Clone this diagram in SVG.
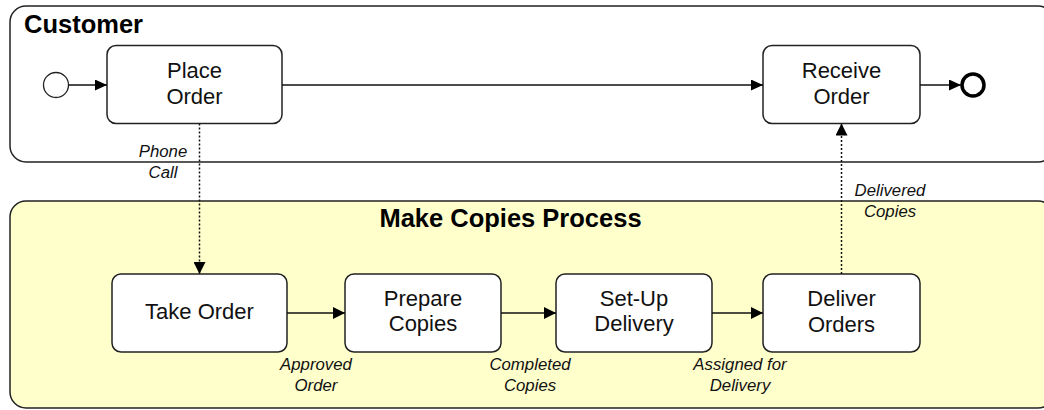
<svg xmlns="http://www.w3.org/2000/svg" width="1044" height="410" viewBox="0 0 1044 410">
<defs>
<marker id="arr" viewBox="0 0 12 11" refX="12" refY="5.5" markerWidth="12" markerHeight="11" markerUnits="userSpaceOnUse" orient="auto">
<path d="M0,0 L12,5.5 L0,11 z" fill="#000"/>
</marker>
<marker id="arrL" viewBox="0 0 12 12" refX="12" refY="6" markerWidth="12" markerHeight="12" markerUnits="userSpaceOnUse" orient="auto">
<path d="M0,0 L12,6 L0,12 z" fill="#000"/>
</marker>
</defs>
<style>
.lane{stroke:#222;stroke-width:1.5}
.box{fill:#fff;stroke:#222;stroke-width:1.5}
.t{font-family:"Liberation Sans",Arial,sans-serif;font-size:22px;fill:#111;text-anchor:middle}
.h{font-family:"Liberation Sans",Arial,sans-serif;font-size:25.5px;font-weight:bold;fill:#000}
.l{font-family:"Liberation Sans",Arial,sans-serif;font-size:16.8px;font-style:italic;fill:#111;text-anchor:middle}
.c{fill:none;stroke:#111;stroke-width:1.5}
.d{fill:none;stroke:#111;stroke-width:1.5;stroke-dasharray:2 2}
</style>
<g id="lane-customer">
<rect class="lane" x="10" y="6" width="1044" height="156" rx="16" fill="#fff"/>
<text class="h" x="24" y="33">Customer</text>
</g>
<g id="lane-make-copies">
<rect class="lane" x="10" y="201" width="1044" height="207" rx="16" fill="#FFFFCC"/>
<text class="h" x="510.5" y="227" text-anchor="middle" font-size="26.2">Make Copies Process</text>
</g>
<g id="start">
<circle cx="56" cy="85" r="12.5" fill="#fff" stroke="#222" stroke-width="1.3"/>
</g>
<g id="end">
<circle cx="973" cy="85" r="11" fill="#fff" stroke="#000" stroke-width="3.5"/>
</g>
<g id="place-order">
<rect class="box" x="107" y="45.5" width="175" height="78" rx="9"/>
<text class="t" x="194.5" y="78">Place</text>
<text class="t" x="194.5" y="103.5">Order</text>
</g>
<g id="receive-order">
<rect class="box" x="763" y="45.5" width="157" height="78" rx="9"/>
<text class="t" x="841.5" y="78">Receive</text>
<text class="t" x="841.5" y="103.5">Order</text>
</g>
<g id="take-order">
<rect class="box" x="112" y="274" width="175" height="78" rx="9"/>
<text class="t" x="199.5" y="318.5">Take Order</text>
</g>
<g id="prepare-copies">
<rect class="box" x="345" y="274" width="156" height="78" rx="9"/>
<text class="t" x="423" y="306">Prepare</text>
<text class="t" x="423" y="331">Copies</text>
</g>
<g id="set-up-delivery">
<rect class="box" x="556" y="274" width="156" height="78" rx="9"/>
<text class="t" x="634" y="306">Set-Up</text>
<text class="t" x="634" y="331">Delivery</text>
</g>
<g id="deliver-orders">
<rect class="box" x="763" y="274" width="157" height="78" rx="9"/>
<text class="t" x="841.5" y="306">Deliver</text>
<text class="t" x="841.5" y="331.5">Orders</text>
</g>
<g id="connectors">
<line class="c" x1="68.5" y1="85" x2="107" y2="85" marker-end="url(#arr)"/>
<line class="c" x1="282" y1="85" x2="763" y2="85" marker-end="url(#arr)"/>
<line class="c" x1="920" y1="85" x2="961" y2="85" marker-end="url(#arr)"/>
<line class="d" x1="199.5" y1="123.5" x2="199.5" y2="274" marker-end="url(#arrL)"/>
<line class="d" x1="841.5" y1="274" x2="841.5" y2="123.5" marker-end="url(#arrL)"/>
<line class="c" x1="287" y1="313" x2="345" y2="313" marker-end="url(#arrL)"/>
<line class="c" x1="501" y1="313" x2="556" y2="313" marker-end="url(#arrL)"/>
<line class="c" x1="712" y1="313" x2="763" y2="313" marker-end="url(#arrL)"/>
<text class="l" x="163" y="157">Phone</text>
<text class="l" x="163" y="178">Call</text>
<text class="l" x="890" y="196">Delivered</text>
<text class="l" x="890" y="217">Copies</text>
<text class="l" x="316" y="370">Approved</text>
<text class="l" x="316" y="391">Order</text>
<text class="l" x="530" y="370">Completed</text>
<text class="l" x="530" y="391">Copies</text>
<text class="l" x="740" y="370">Assigned for</text>
<text class="l" x="740" y="391">Delivery</text>
</g>
</svg>
